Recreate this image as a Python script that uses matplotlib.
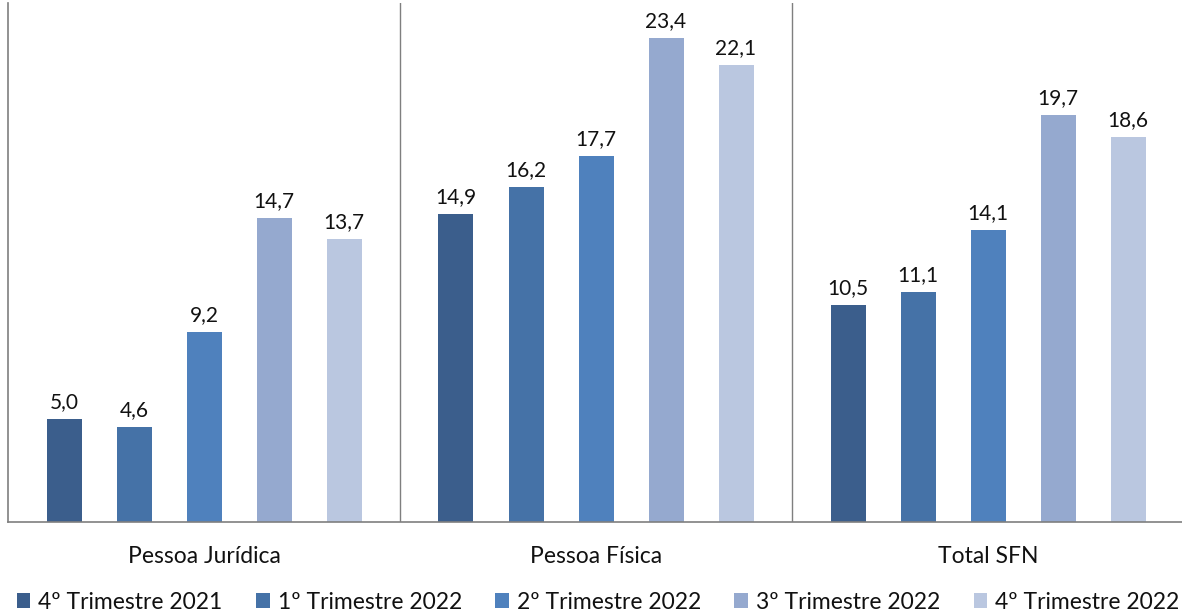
import numpy as np
import matplotlib.pyplot as plt
from matplotlib.patches import Patch

plt.rcParams['font.family'] = ['Lato', 'DejaVu Sans']

grupos = ['Pessoa Jurídica', 'Pessoa Física', 'Total SFN']
trimestres = ['4º Trimestre 2021', '1º Trimestre 2022', '2º Trimestre 2022',
              '3º Trimestre 2022', '4º Trimestre 2022']
valores = [
    [5.0, 14.9, 10.5],
    [4.6, 16.2, 11.1],
    [9.2, 17.7, 14.1],
    [14.7, 23.4, 19.7],
    [13.7, 22.1, 18.6],
]
cores = ['#3B5E8C', '#4572A7', '#4F81BD', '#95A9CF', '#BAC7E0']

fig = plt.figure(figsize=(11.82, 6.13), dpi=100)
ax = fig.add_axes([8 / 1182, 91 / 613, 1176 / 1182, 519 / 613])

x = np.arange(len(grupos))
passo = 70 / 392
largura = 35 / 392
for i, (serie, cor) in enumerate(zip(valores, cores)):
    pos = x + (i - 2) * passo
    barras = ax.bar(pos, serie, width=largura, color=cor)
    for b, v in zip(barras, serie):
        ax.annotate(f'{v:.1f}'.replace('.', ','),
                    (b.get_x() + b.get_width() / 2, v),
                    xytext=(0, 5), textcoords='offset points',
                    ha='center', va='bottom', fontsize=15, color='#111111')

ax.set_xlim(-0.5, 2.5)
ax.set_ylim(0, 25.1)
ax.set_yticks([])
ax.set_xticks(x)
ax.set_xticklabels(grupos, fontsize=16.5, color='#111111')
ax.tick_params(axis='x', length=0, pad=17.5)

for s in ['top', 'right']:
    ax.spines[s].set_visible(False)
for s in ['left', 'bottom']:
    ax.spines[s].set_color('#7f7f7f')
    ax.spines[s].set_linewidth(1.2)
for d in [0.5, 1.5]:
    ax.axvline(d, color='#7f7f7f', linewidth=1.0)

handles = [Patch(facecolor=c, edgecolor='none') for c in cores]
fig.legend(handles, trimestres, loc='lower center', ncol=5, frameon=False,
           fontsize=16.5, bbox_to_anchor=(0.506, -0.033),
           handlelength=0.6, handleheight=0.6, handletextpad=0.35,
           columnspacing=1.45, labelcolor='#111111')

fig.savefig('out.png', dpi=100)
